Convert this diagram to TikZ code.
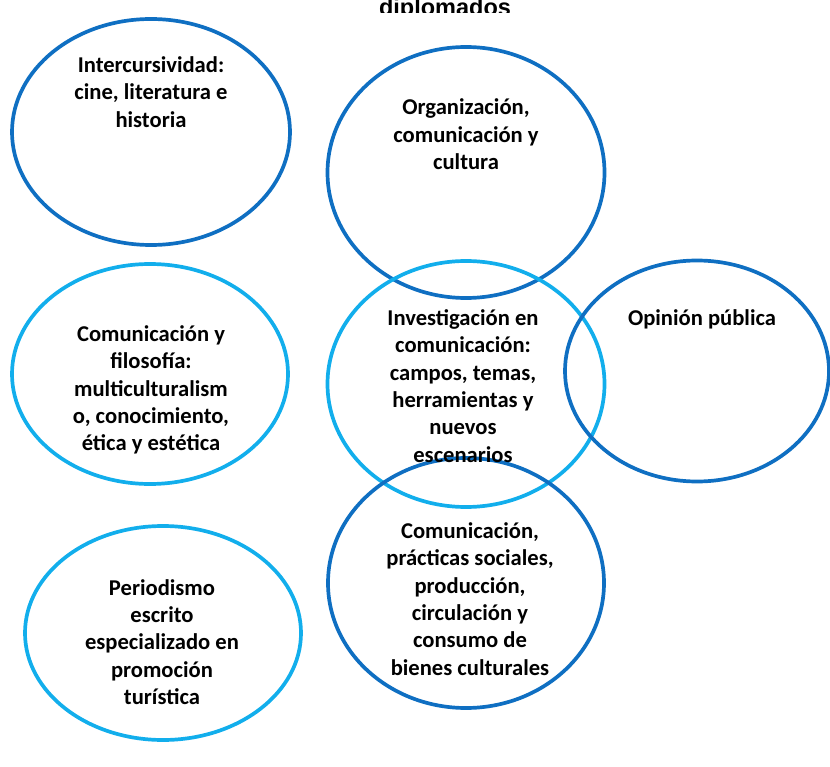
\documentclass[tikz,border=0pt]{standalone}
\usepackage{fontspec}
\setmainfont{Carlito}
\newfontfamily\titlefont{Liberation Sans}
\usetikzlibrary{shapes.geometric}
\definecolor{darkb}{HTML}{0F6FC2}
\definecolor{lightb}{HTML}{12AEEC}
\begin{document}
\begin{tikzpicture}[x=1pt,y=-1pt,
  ring/.style={draw=#1, line width=3.7pt, ellipse, inner sep=0pt},
  lbl/.style={align=center, font=\fontsize{22.6}{27.4}\selectfont\bfseries, inner sep=0pt}]
\useasboundingbox (0,0) rectangle (830,767);
\begin{scope}
  \clip (0,0) rectangle (830,12.5);
  \node[font=\fontsize{23.5}{26}\selectfont\titlefont\bfseries, anchor=base, inner sep=0pt] (title) at (445,15.5) {diplomados};
\end{scope}
\node[ring=darkb, minimum width=278pt, minimum height=226pt] (e1) at (151,132) {};
\node[ring=darkb, minimum width=277pt, minimum height=251pt] (e2) at (466,172.5) {};
\node[ring=lightb, minimum width=277pt, minimum height=246pt] (e3) at (466,384) {};
\node[ring=darkb, minimum width=264pt, minimum height=221pt] (e4) at (697,371) {};
\node[ring=lightb, minimum width=276pt, minimum height=220pt] (e5) at (150,374) {};
\node[ring=darkb, minimum width=276pt, minimum height=250pt] (e6) at (466,583) {};
\node[ring=lightb, minimum width=276pt, minimum height=214pt] (e7) at (163,633) {};
\node[lbl] (t1) at (151,92) {Intercursividad:\\cine, literatura e\\historia};
\node[lbl] (t2) at (466,134.5) {Organización,\\comunicación y\\cultura};
\node[lbl] (t3) at (463,386) {Investigación en\\comunicación:\\campos, temas,\\herramientas y\\nuevos\\escenarios};
\node[lbl] (t4) at (702,319) {Opinión pública};
\node[lbl] (t5) at (151,390) {Comunicación y\\filosofía:\\multiculturalism\\o, conocimiento,\\ética y estética};
\node[lbl] (t6) at (470,599) {Comunicación,\\prácticas sociales,\\producción,\\circulación y\\consumo de\\bienes culturales};
\node[lbl] (t7) at (162,642) {Periodismo\\escrito\\especializado en\\promoción\\turística};
\end{tikzpicture}
\end{document}
